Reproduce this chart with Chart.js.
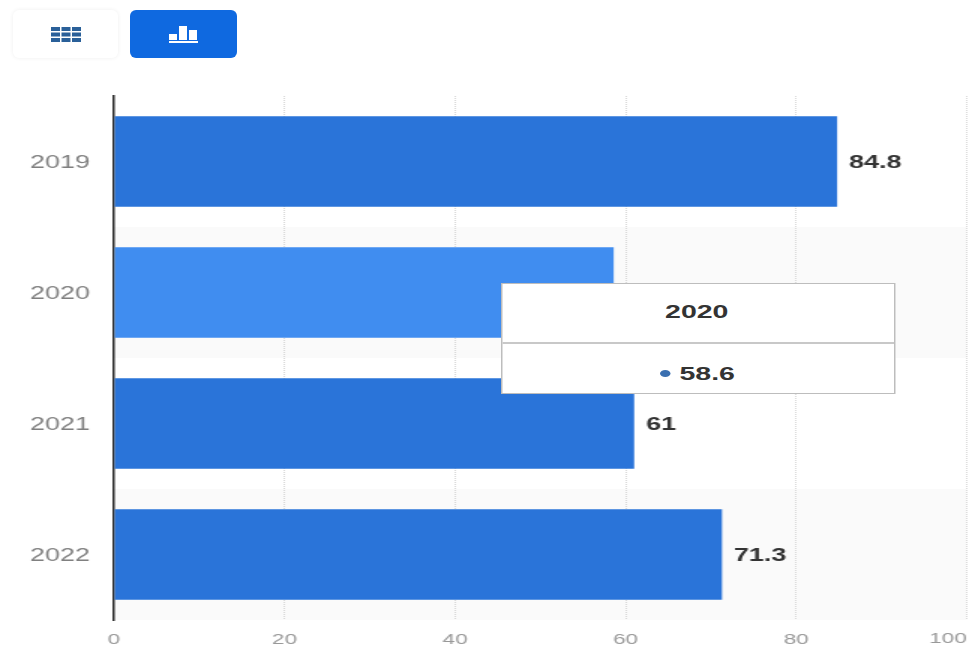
<!DOCTYPE html>
<html>
<head>
<meta charset="utf-8">
<title>Bar chart</title>
<script src="https://cdn.jsdelivr.net/npm/chart.js@4"></script>
<style>
html, body { margin: 0; padding: 0; background: #fff; overflow: hidden; width: 971px; height: 648px; }
.btn { position: absolute; top: 10px; height: 48px; border-radius: 6px; box-sizing: border-box; display: flex; align-items: center; justify-content: center; }
#btnTable { left: 13px; width: 105px; background: #fff; box-shadow: 0 0 4px rgba(0,0,0,0.07); }
#btnChart { left: 130px; width: 107px; background: #0f69e0; }
/* source picture is stretched sideways, so the chart is drawn narrow and scaled */
#wrap { position: absolute; left: 0; top: 0; width: 648px; height: 648px; transform: scaleX(1.5); transform-origin: 0 0; }
#tip { position: absolute; left: 334px; top: 283px; width: 263px; height: 111px; box-sizing: border-box; background: #fff; border: 1.5px solid #bdbdbd; font-family: "Liberation Sans", Arial, sans-serif; font-weight: bold; font-size: 19px; color: #333; text-align: center; }
#tipTitle { height: 58px; line-height: 56px; border-bottom: 2px solid #c8c8c8; padding-right: 2px; }
#tipBody { line-height: 60px; padding-right: 1px; }
#tipDot { display: inline-block; width: 7px; height: 7px; border-radius: 50%; background: #3a6fb0; margin-right: 6px; vertical-align: 3px; }
</style>
</head>
<body>
<div class="btn" id="btnTable">
  <svg width="30" height="15" viewBox="0 0 30 15" fill="#2a6099">
    <rect x="0" y="0" width="9" height="4"/><rect x="10.5" y="0" width="9" height="4"/><rect x="21" y="0" width="9" height="4"/>
    <rect x="0" y="5.5" width="9" height="4"/><rect x="10.5" y="5.5" width="9" height="4"/><rect x="21" y="5.5" width="9" height="4"/>
    <rect x="0" y="11" width="9" height="4"/><rect x="10.5" y="11" width="9" height="4"/><rect x="21" y="11" width="9" height="4"/>
  </svg>
</div>
<div class="btn" id="btnChart">
  <svg width="29" height="17" viewBox="0 0 29 17" fill="#fff">
    <rect x="0" y="8" width="8" height="6"/><rect x="10" y="0" width="8" height="14"/><rect x="20" y="4" width="8" height="10"/>
    <rect x="0" y="15" width="29" height="2"/>
  </svg>
</div>
<div id="wrap">
  <canvas id="barChart" width="648" height="648"></canvas>
  <div id="tip"><div id="tipTitle"></div><div id="tipBody"><span id="tipDot"></span><span id="tipValue"></span></div></div>
</div>
<script>
const years = ['2019', '2020', '2021', '2022'];
const values = [84.8, 58.6, 61, 71.3];
const xTicks = [0, 20, 40, 60, 80, 100];
const activeIndex = 1;
const fontFamily = '"Liberation Sans", Arial, sans-serif';

// light bands behind every second category
const bandPlugin = {
    id: 'bands',
    beforeDraw(chart) {
        const { ctx, chartArea, scales } = chart;
        const step = scales.y.getPixelForValue(1) - scales.y.getPixelForValue(0);
        ctx.save();
        ctx.fillStyle = '#fafafa';
        years.forEach((y, i) => {
            if (i % 2 === 1) {
                ctx.fillRect(chartArea.left, scales.y.getPixelForValue(i) - step / 2, chartArea.width, step);
            }
        });
        ctx.restore();
    }
};

// value labels at the end of the bars, and the last x tick which sits inside the edge
const labelPlugin = {
    id: 'labels',
    afterDatasetsDraw(chart) {
        const { ctx, scales } = chart;
        ctx.save();
        ctx.font = 'bold 18px ' + fontFamily;
        ctx.fillStyle = '#333';
        ctx.textBaseline = 'middle';
        chart.getDatasetMeta(0).data.forEach((bar, i) => {
            if (i !== activeIndex) ctx.fillText(String(values[i]), bar.x + 8, bar.y + 1.5);
        });
        const last = xTicks[xTicks.length - 1];
        ctx.font = '15px ' + fontFamily;
        ctx.fillStyle = '#999';
        ctx.textAlign = 'right';
        ctx.textBaseline = 'top';
        ctx.fillText(String(last), scales.x.getPixelForValue(last), scales.x.top + 11);
        ctx.restore();
    }
};

function fillTooltip(context) {
    const tooltip = context.tooltip;
    if (!tooltip.dataPoints || !tooltip.dataPoints.length) return;
    document.getElementById('tipTitle').textContent = tooltip.title[0];
    document.getElementById('tipValue').textContent = tooltip.dataPoints[0].formattedValue;
}

const chart = new Chart(document.getElementById('barChart'), {
    type: 'bar',
    data: {
        labels: years,
        datasets: [{
            data: values,
            backgroundColor: '#2a74d9',
            hoverBackgroundColor: '#408df0',
            barPercentage: 0.69,
            categoryPercentage: 1
        }]
    },
    options: {
        indexAxis: 'y',
        responsive: false,
        animation: false,
        events: [],
        layout: { padding: { top: 96, right: 3.5 } },
        scales: {
            x: {
                min: 0,
                max: 100,
                afterFit(scale) { scale.height = 28; scale.paddingRight = 0; scale.paddingLeft = 0; },
                afterBuildTicks(scale) { scale.ticks = xTicks.map(v => ({ value: v })); },
                grid: {
                    color: ctx => ctx.tick && ctx.tick.value === 0 ? 'rgba(0,0,0,0)' : '#d8d8d8',
                    tickLength: 0
                },
                border: { display: false, dash: [1, 1] },
                ticks: {
                    color: '#999',
                    padding: 11,
                    maxRotation: 0,
                    callback: v => v === xTicks[xTicks.length - 1] ? '' : v,
                    font: { family: fontFamily, size: 15 }
                }
            },
            y: {
                afterFit(scale) { scale.width = 76; },
                grid: { display: false },
                border: { color: '#2b2b2b', width: 1.5 },
                ticks: {
                    color: '#808080',
                    padding: 8,
                    labelOffset: 2,
                    font: { family: fontFamily, size: 18 }
                }
            }
        },
        plugins: {
            legend: { display: false },
            tooltip: { enabled: false, external: fillTooltip }
        }
    },
    plugins: [bandPlugin, labelPlugin]
});

// 2020 is shown in its hovered state, as in the screenshot
const active = [{ datasetIndex: 0, index: activeIndex }];
chart.setActiveElements(active);
chart.tooltip.setActiveElements(active, { x: 0, y: 0 });
chart.update();
</script>
</body>
</html>
